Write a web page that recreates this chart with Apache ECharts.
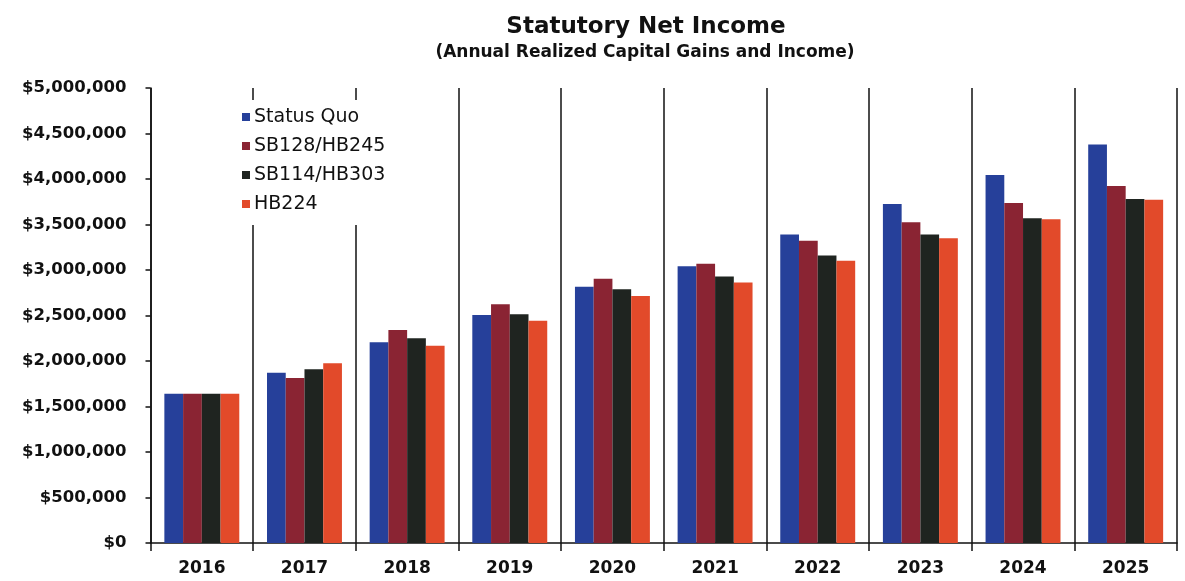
<!DOCTYPE html>
<html>
<head>
<meta charset="utf-8">
<script src="https://cdn.jsdelivr.net/npm/echarts@6/dist/echarts.min.js"></script>
<style>
html,body{margin:0;padding:0;background:#fff;}
#chart{width:1185px;height:581px;}
</style>
</head>
<body>
<div id="chart"></div>
<script>
const categories = ['2016','2017','2018','2019','2020','2021','2022','2023','2024','2025'];
const seriesNames = ['Status Quo','SB128/HB245','SB114/HB303','HB224'];
const statusQuo = [1640000,1870000,2205000,2505000,2815000,3040000,3390000,3725000,4045000,4380000];
const sb128 = [1640000,1813000,2340000,2625000,2905000,3068000,3322000,3525000,3735000,3922000];
const sb114 = [1640000,1910000,2250000,2515000,2788000,2928000,3160000,3390000,3570000,3780000];
const hb224 = [1640000,1975000,2168000,2443000,2714000,2862000,3103000,3348000,3558000,3771000];
const yTicks = [0,500000,1000000,1500000,2000000,2500000,3000000,3500000,4000000,4500000,5000000];

const colors = ['#26409a','#8a2433','#1f2420','#e24a2a'];
const values = [statusQuo, sb128, sb114, hb224];
const FONT = 'DejaVu Sans';

function money(v){
  return '$' + String(v).replace(/\B(?=(\d{3})+(?!\d))/g, ',');
}

const chart = echarts.init(document.getElementById('chart'), null, {renderer:'canvas'});
chart.setOption({
  animation:false,
  backgroundColor:'#ffffff',
  title:[
    {text:'Statutory Net Income', left:641, top:11, textAlign:'center',
     textStyle:{fontFamily:FONT, fontWeight:'bold', fontSize:23, color:'#111'}},
    {text:'(Annual Realized Capital Gains and Income)', left:640, top:39, textAlign:'center',
     textStyle:{fontFamily:FONT, fontWeight:'bold', fontSize:17, color:'#111'}}
  ],
  legend:{
    data:seriesNames,
    orient:'vertical',
    left:237, top:100,
    padding:[7,14,11,5],
    backgroundColor:'#ffffff',
    itemWidth:8, itemHeight:8, itemGap:9,
    icon:'rect',
    textStyle:{fontFamily:FONT, fontSize:19, color:'#111', lineHeight:20, padding:[0,0,0,-1]}
  },
  grid:{left:150.5, right:8, top:88, bottom:38, containLabel:false},
  xAxis:{
    type:'category',
    data:categories,
    boundaryGap:true,
    axisLine:{show:true, lineStyle:{color:'#111', width:1.5}},
    axisTick:{show:true, length:8, inside:false, lineStyle:{color:'#111', width:1.5}},
    splitLine:{show:true, lineStyle:{color:'#111', width:1.5}},
    axisLabel:{fontFamily:FONT, fontWeight:'bold', fontSize:17, color:'#111', margin:17}
  },
  yAxis:{
    type:'value',
    min:0, max:5000000, interval:500000,
    axisLine:{show:true, lineStyle:{color:'#111', width:1.5}},
    axisTick:{show:true, length:5, lineStyle:{color:'#111', width:1.5}},
    splitLine:{show:false},
    axisLabel:{fontFamily:FONT, fontWeight:'bold', fontSize:16.5, color:'#111', margin:24,
      formatter:function(v){ return yTicks.indexOf(v) >= 0 ? money(v) : ''; }}
  },
  series: seriesNames.map(function(name, i){
    return {
      name:name, type:'bar', data:values[i],
      barGap:'0%', barCategoryGap:'27%',
      itemStyle:{color:colors[i]},
      z:1
    };
  })
});
</script>
</body>
</html>
